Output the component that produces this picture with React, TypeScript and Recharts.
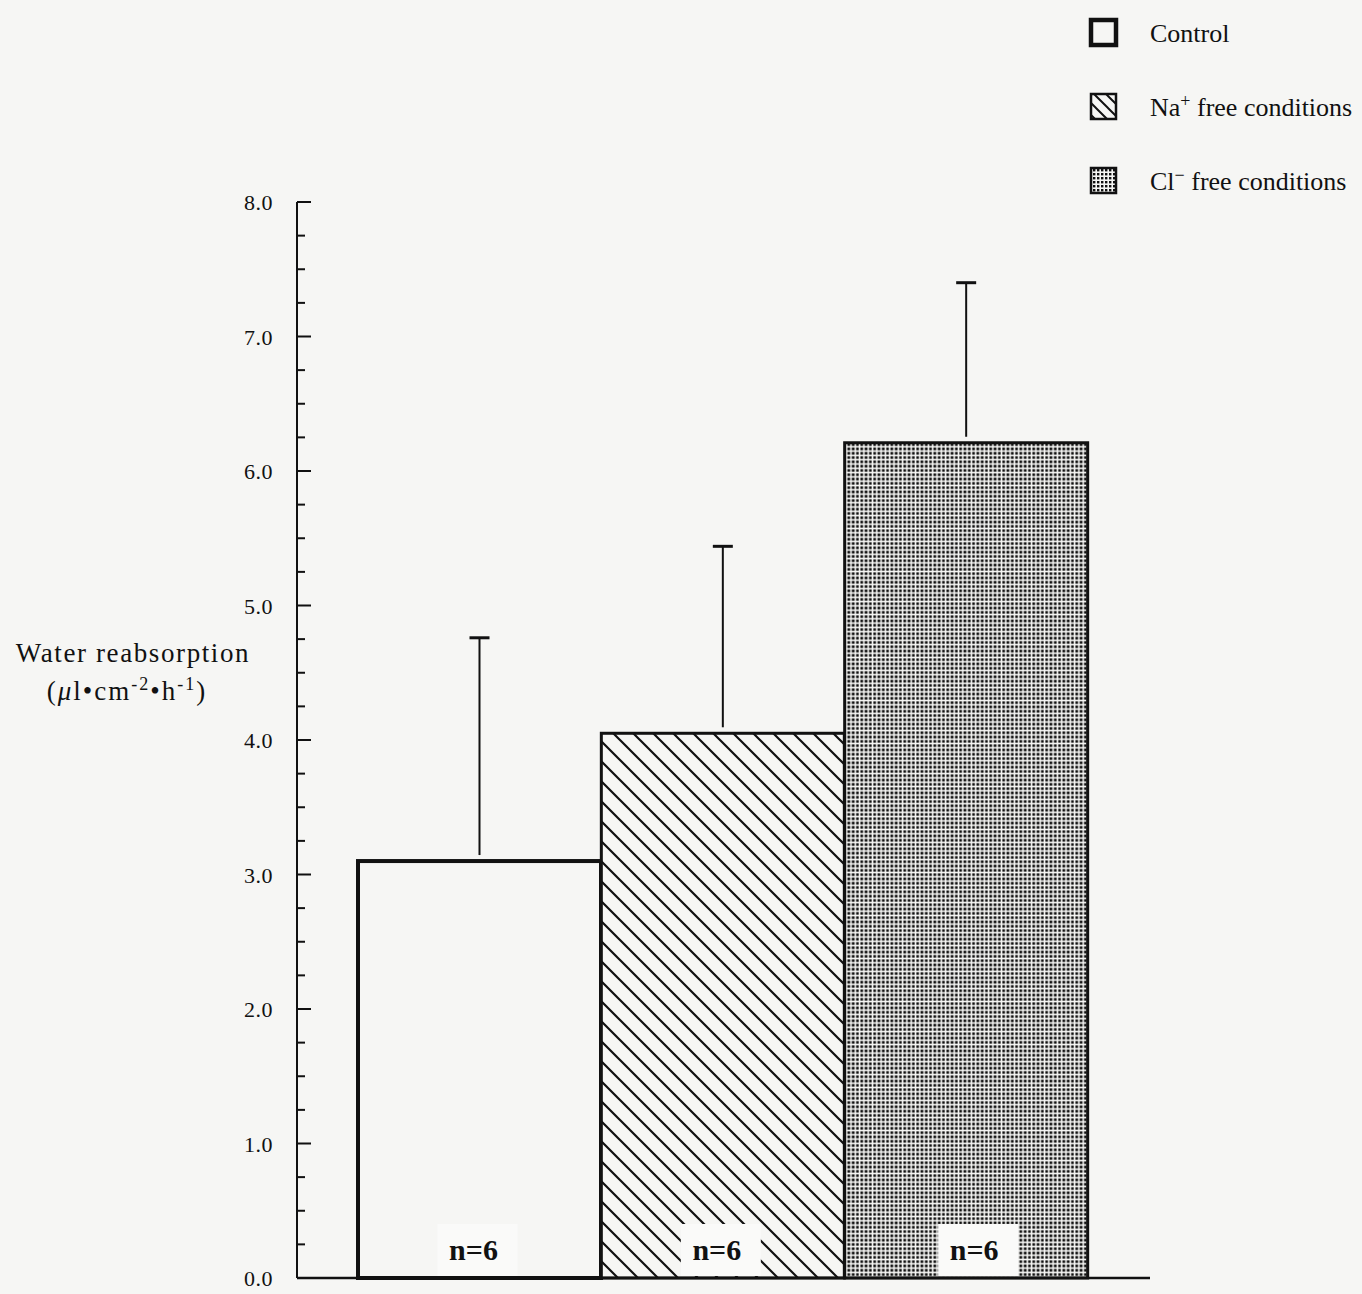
import React from "react";
import { BarChart, Bar, XAxis, YAxis, LabelList } from "recharts";

const conditions = ["Control", "Na+ free", "Cl- free"];
const meanReabsorption = [3.1, 4.05, 6.21];
const semReabsorption = [1.66, 1.39, 1.19];
const sampleSizes = [6, 6, 6];
const yMajorTicks = [0, 1, 2, 3, 4, 5, 6, 7, 8];

const data = conditions.map((condition, i) => ({
  condition,
  mean: meanReabsorption[i],
  sem: semReabsorption[i],
  n: sampleSizes[i],
}));

// quarter-step minor ticks between the labelled ones
const yTicks = yMajorTicks.flatMap((v) =>
  v === yMajorTicks[yMajorTicks.length - 1] ? [v] : [v, v + 0.25, v + 0.5, v + 0.75]
);

const PAPER = "#f6f6f4";
const INK = "#111";
const SERIF = "'Liberation Serif', 'Times New Roman', serif";

const barFills = [PAPER, "url(#hatch)", "url(#dots)"];
const barStrokeWidths = [4, 3, 3];
// the n= boxes don't sit exactly mid-bar
const labelShift = [-2, -2, 12];

function ReabsorptionBar(props: any) {
  const { x, y, width, height, index, payload } = props;
  const perUnit = height / payload.mean;
  const cx = x + width / 2;
  const errTop = y - payload.sem * perUnit;
  return (
    <g>
      <rect
        x={x}
        y={y}
        width={width}
        height={height}
        fill={barFills[index]}
        stroke={INK}
        strokeWidth={barStrokeWidths[index]}
      />
      <line x1={cx} x2={cx} y1={y - 6} y2={errTop} stroke={INK} strokeWidth={2} />
      <line x1={cx - 10} x2={cx + 10} y1={errTop} y2={errTop} stroke={INK} strokeWidth={3} />
    </g>
  );
}

function SampleSizeLabel(props: any) {
  const { x, y, width, height, value, index } = props;
  const cx = x + width / 2 + (labelShift[index] ?? 0);
  const bottom = y + height;
  return (
    <g>
      <rect x={cx - 40} y={bottom - 54} width={80} height={52} fill="#fafaf9" />
      <text
        x={cx - 4}
        y={bottom - 18}
        textAnchor="middle"
        fontFamily={SERIF}
        fontWeight="bold"
        fontSize={30}
        fill={INK}
      >
        n={value}
      </text>
    </g>
  );
}

function YTick(props: any) {
  const { x, y, payload } = props;
  const major = Number.isInteger(payload.value);
  return (
    <g>
      <line x1={x} x2={x + (major ? 14 : 8)} y1={y} y2={y} stroke={INK} strokeWidth={2} />
      {major && (
        <text
          x={x - 24}
          y={y + 8}
          textAnchor="end"
          fontFamily={SERIF}
          fontSize={22}
          letterSpacing={0.5}
          fill={INK}
        >
          {payload.value.toFixed(1)}
        </text>
      )}
    </g>
  );
}

function YTitle(props: any) {
  const { viewBox } = props;
  const cx = viewBox.x - 84;
  const cy = viewBox.y + viewBox.height / 2;
  return (
    <g fontFamily={SERIF} fill={INK}>
      <text x={cx} y={cy - 78} textAnchor="middle" fontSize={27} letterSpacing={1.6}>
        Water reabsorption
      </text>
      <text x={cx - 6} y={cy - 40} textAnchor="middle" fontSize={27} letterSpacing={2}>
        (<tspan fontStyle="italic">μ</tspan>l•cm
        <tspan dy={-10} fontSize={18}>-2</tspan>
        <tspan dy={10}>•h</tspan>
        <tspan dy={-10} fontSize={18}>-1</tspan>
        <tspan dy={10}>)</tspan>
      </text>
    </g>
  );
}

const legendLabels = [
  { main: "Control", ion: "", charge: "" },
  { main: " free conditions", ion: "Na", charge: "+" },
  { main: " free conditions", ion: "Cl", charge: "−" },
];
const legendFills = [PAPER, "url(#hatchSmall)", "url(#dotsSmall)"];
const legendStrokeWidths = [4.5, 2.5, 2.5];

function ConditionLegend() {
  return (
    <svg
      width={290}
      height={210}
      style={{ position: "absolute", left: 1072, top: 0 }}
      fontFamily={SERIF}
    >
      <defs>
        <pattern id="hatchSmall" width={12} height={12} patternUnits="userSpaceOnUse">
          <path d="M0,0 L12,12 M-2,10 L2,14 M10,-2 L14,2" stroke={INK} strokeWidth={2} />
        </pattern>
        <pattern id="dotsSmall" width={4} height={4} patternUnits="userSpaceOnUse">
          <rect width={4} height={4} fill={PAPER} />
          <rect x={1} y={1} width={2.4} height={2.4} fill={INK} />
        </pattern>
      </defs>
      {legendLabels.map((item, i) => {
        const top = 20 + i * 74;
        return (
          <g key={i}>
            <rect
              x={19}
              y={top}
              width={25}
              height={25}
              fill={legendFills[i]}
              stroke={INK}
              strokeWidth={legendStrokeWidths[i]}
            />
            <text x={78} y={top + 22} fontSize={26} fill={INK}>
              {item.ion}
              {item.charge && (
                <tspan dy={-9} fontSize={18}>
                  {item.charge}
                </tspan>
              )}
              {item.charge ? <tspan dy={9}>{item.main}</tspan> : item.main}
            </text>
          </g>
        );
      })}
    </svg>
  );
}

export default function App() {
  return (
    <div
      style={{
        position: "absolute",
        left: 0,
        top: 0,
        width: 1362,
        height: 1294,
        background: PAPER,
      }}
    >
      <BarChart
        width={1362}
        height={1294}
        data={data}
        barCategoryGap={0}
        margin={{ top: 202, right: 212, bottom: 14, left: 217 }}
      >
        <defs>
          <pattern id="hatch" width={20} height={20} patternUnits="userSpaceOnUse">
            <rect width={20} height={20} fill={PAPER} />
            <path d="M0,0 L20,20 M-3,17 L3,23 M17,-3 L23,3" stroke={INK} strokeWidth={2.2} />
          </pattern>
          <pattern id="dots" width={4.3} height={4.3} patternUnits="userSpaceOnUse">
            <rect width={4.3} height={4.3} fill={PAPER} />
            <rect x={0.4} y={0.4} width={2.7} height={2.7} fill={INK} />
          </pattern>
        </defs>
        <XAxis
          dataKey="condition"
          height={2}
          tick={false}
          tickLine={false}
          axisLine={{ stroke: INK, strokeWidth: 2.5 }}
          padding={{ left: 61, right: 62 }}
        />
        <YAxis
          domain={[0, 8]}
          ticks={yTicks}
          interval={0}
          width={80}
          tickSize={0}
          tickMargin={0}
          tickLine={false}
          tick={<YTick />}
          axisLine={{ stroke: INK, strokeWidth: 2 }}
          label={<YTitle />}
        />
        <Bar dataKey="mean" shape={<ReabsorptionBar />} isAnimationActive={false}>
          <LabelList dataKey="n" content={<SampleSizeLabel />} />
        </Bar>
      </BarChart>
      <ConditionLegend />
    </div>
  );
}
